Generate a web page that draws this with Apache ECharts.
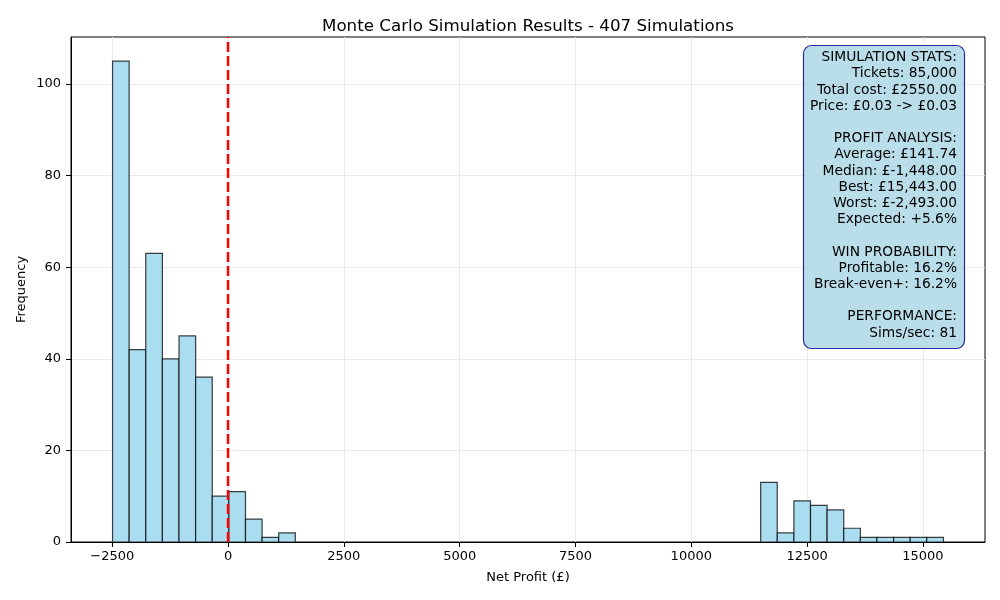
<!DOCTYPE html>
<html>
<head>
<meta charset="utf-8">
<script src="https://cdn.jsdelivr.net/npm/echarts@6/dist/echarts.min.js"></script>
<style>
  html, body { margin: 0; padding: 0; background: #fff; }
  #main { width: 1000px; height: 600px; }
</style>
</head>
<body>
<div id="main"></div>
<script>
// histogram: 50 bins between worst and best result
var binMin = -2493;
var binMax = 15443;
var counts = [
  105, 42, 63, 40, 45, 36, 10, 11, 5, 1,
  2, 0, 0, 0, 0, 0, 0, 0, 0, 0,
  0, 0, 0, 0, 0, 0, 0, 0, 0, 0,
  0, 0, 0, 0, 0, 0, 0, 0, 0, 13,
  2, 9, 8, 7, 3, 1, 1, 1, 1, 1
];
var xTicks = [-2500, 0, 2500, 5000, 7500, 10000, 12500, 15000];
var yTicks = [0, 20, 40, 60, 80, 100];
var statsLines = [
  "SIMULATION STATS:",
  "Tickets: 85,000",
  "Total cost: £2550.00",
  "Price: £0.03 -> £0.03",
  "",
  "PROFIT ANALYSIS:",
  "Average: £141.74",
  "Median: £-1,448.00",
  "Best: £15,443.00",
  "Worst: £-2,493.00",
  "Expected: +5.6%",
  "",
  "WIN PROBABILITY:",
  "Profitable: 16.2%",
  "Break-even+: 16.2%",
  "",
  "PERFORMANCE:",
  "Sims/sec: 81"
];

var binWidth = (binMax - binMin) / counts.length;
var bins = counts.map(function (c, i) {
  return [binMin + i * binWidth, binMin + (i + 1) * binWidth, c];
});
var pad = (binMax - binMin) * 0.05;
var yMax = 105 * 1.05;

var font = "DejaVu Sans";
var chart = echarts.init(document.getElementById("main"));
chart.setOption({
  animation: false,
  textStyle: { fontFamily: font },
  title: {
    text: "Monte Carlo Simulation Results - 407 Simulations",
    left: 523,
    textAlign: "center",
    top: 13,
    textStyle: { fontFamily: font, fontSize: 16.7, fontWeight: "normal", color: "#000" }
  },
  grid: {
    left: 71, right: 15, top: 37, bottom: 58,
    outerBoundsMode: "none",
    containLabel: false,
    show: true, borderColor: "#000", borderWidth: 1, backgroundColor: "transparent"
  },
  xAxis: {
    type: "value",
    min: binMin - pad,
    max: binMax + pad,
    name: "Net Profit (£)",
    nameLocation: "middle",
    nameGap: 29,
    nameMoveOverlap: false,
    nameTextStyle: { fontSize: 13, color: "#000" },
    axisLine: { show: true, onZero: false, lineStyle: { color: "#000" } },
    axisTick: { show: true, length: 5, customValues: xTicks, lineStyle: { color: "#000" } },
    axisLabel: {
      customValues: xTicks, margin: 8, fontSize: 13, color: "#000",
      formatter: function (v) { return String(v).replace("-", "\u2212"); }
    },
    splitLine: { show: true, lineStyle: { color: "#e6e6e6", width: 0.8 } }
  },
  yAxis: {
    type: "value",
    min: 0,
    max: yMax,
    name: "Frequency",
    nameLocation: "middle",
    nameGap: 43,
    nameMoveOverlap: false,
    nameTextStyle: { fontSize: 13, color: "#000" },
    axisLine: { show: true, onZero: false, lineStyle: { color: "#000" } },
    axisTick: { show: true, length: 5, customValues: yTicks, lineStyle: { color: "#000" } },
    axisLabel: { customValues: yTicks, margin: 10, fontSize: 13, color: "#000" },
    splitLine: { show: true, lineStyle: { color: "#e6e6e6", width: 0.8 } }
  },
  series: [
    {
      type: "custom",
      data: bins,
      encode: { x: [0, 1], y: 2 },
      renderItem: function (params, api) {
        var top = api.coord([api.value(0), api.value(2)]);
        var bottom = api.coord([api.value(1), 0]);
        if (api.value(2) <= 0) return null;
        return {
          type: "rect",
          shape: { x: top[0], y: top[1], width: bottom[0] - top[0], height: bottom[1] - top[1] },
          style: { fill: "#abddf1", stroke: "rgba(0,0,0,0.75)", lineWidth: 1.2 }
        };
      },
      z: 2
    },
    {
      type: "line",
      data: [[0, 0], [0, yMax]],
      symbol: "none",
      lineStyle: { color: "#ff0000", width: 2.5, type: [10, 4] },
      z: 3
    }
  ],
  graphic: [
    {
      type: "rect",
      shape: { x: 803.5, y: 45.5, width: 161, height: 303, r: 8 },
      style: { fill: "rgba(173,216,230,0.85)", stroke: "#2a2aa0", lineWidth: 1.2 },
      z: 10
    },
    {
      type: "text",
      x: 957,
      y: 49.5,
      style: {
        text: statsLines.join("\n"),
        align: "right",
        verticalAlign: "top",
        font: "13.8px " + font,
        lineHeight: 16.2,
        fill: "#000"
      },
      z: 11
    }
  ]
});
</script>
</body>
</html>
